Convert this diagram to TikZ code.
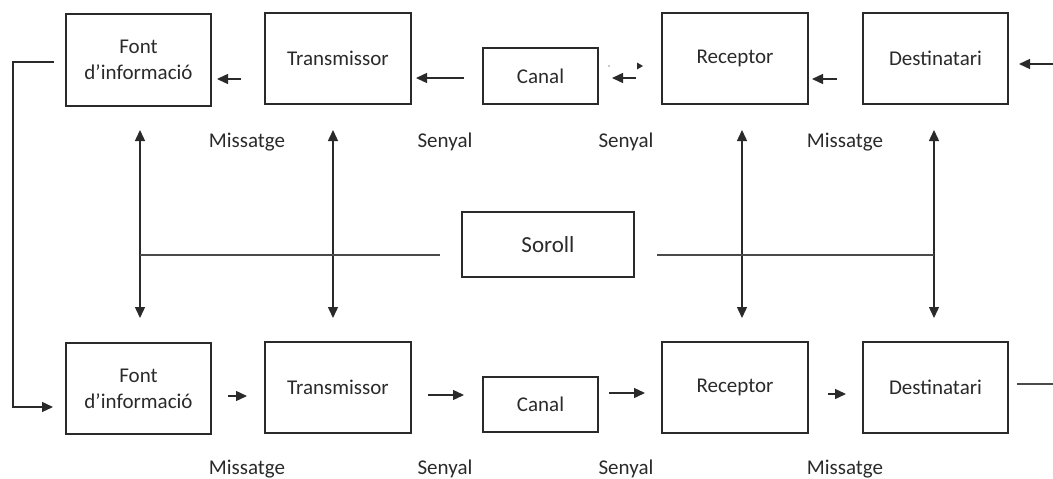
\documentclass[tikz,border=0pt]{standalone}
\usepackage{fontspec}
\setmainfont{Carlito}
\usetikzlibrary{arrows.meta}
\definecolor{ink}{HTML}{2A2A2A}
\begin{document}
\begin{tikzpicture}[x=1pt,y=-1pt,
  box/.style={draw=ink, line width=1.5pt, inner sep=0pt, text=ink, align=center,
    font=\fontsize{21}{26}\selectfont},
  lab/.style={text=ink, inner sep=0pt, font=\fontsize{21}{26}\selectfont},
  arr/.style={draw=ink, line width=1.4pt, -{Triangle[length=11pt,width=10pt]}},
  darr/.style={draw=ink, line width=1.4pt, {Triangle[length=11pt,width=10pt]}-{Triangle[length=11pt,width=10pt]}},
  ln/.style={draw=ink!85, line width=1.4pt}]
\useasboundingbox (0,0) rectangle (1053,479);
% top row
\node[box, minimum width=145pt, minimum height=92pt] (f1) at (138.5,60) {Font\\d’informació};
\node[box, minimum width=146pt, minimum height=91pt] (t1) at (338,58.5) {Transmissor};
\node[box, minimum width=115pt, minimum height=56pt] (c1) at (540.5,76) {Canal};
\node[box, minimum width=146pt, minimum height=91pt] (r1) at (735,58.5) {Receptor};
\node[box, minimum width=145pt, minimum height=91pt] (d1) at (935.5,58.5) {Destinatari};
% bottom row
\node[box, minimum width=145pt, minimum height=91pt] (f2) at (138.5,388.5) {Font\\d’informació};
\node[box, minimum width=146pt, minimum height=91pt] (t2) at (338,387.5) {Transmissor};
\node[box, minimum width=115pt, minimum height=55pt] (c2) at (540.5,404.5) {Canal};
\node[box, minimum width=146pt, minimum height=91pt] (r2) at (735,387.5) {Receptor};
\node[box, minimum width=145pt, minimum height=91pt] (d2) at (935.5,387.5) {Destinatari};
% noise
\node[box, minimum width=172pt, minimum height=65pt, font=\fontsize{23}{28}\selectfont] (s) at (548,244.5) {Soroll};
% labels
\node[lab] (m1) at (247,142) {Missatge};
\node[lab] (s1) at (445,142) {Senyal};
\node[lab] (s2) at (626,142) {Senyal};
\node[lab] (m2) at (845,142) {Missatge};
\node[lab] (m3) at (247,469) {Missatge};
\node[lab] (s3) at (445,469) {Senyal};
\node[lab] (s4) at (626,469) {Senyal};
\node[lab] (m4) at (845,469) {Missatge};
% top arrows (right to left)
\coordinate (a1s) at (241,79); \coordinate (a1e) at (217,79);
\coordinate (a2s) at (464,78); \coordinate (a2e) at (416,78);
\coordinate (a3s) at (636,78); \coordinate (a3e) at (612,78);
\coordinate (a4s) at (837,79); \coordinate (a4e) at (812,79);
\coordinate (a5s) at (1053,64); \coordinate (a5e) at (1019,64);
\draw[arr] (a1s) -- (a1e);
\draw[arr] (a2s) -- (a2e);
\draw[arr] (a3s) -- (a3e);
\draw[arr] (a4s) -- (a4e);
\draw[arr] (a5s) -- (a5e);
\fill[ink] (643,66) -- (637,62.5) -- (637,69.5) -- cycle;
\fill[ink!50] (609,66) circle (0.8pt);
% bottom arrows (left to right)
\coordinate (b1s) at (228,396); \coordinate (b1e) at (247,396);
\coordinate (b2s) at (428,395); \coordinate (b2e) at (464,395);
\coordinate (b3s) at (609,393); \coordinate (b3e) at (645,393);
\coordinate (b4s) at (828,394); \coordinate (b4e) at (846,394);
\coordinate (b5s) at (1017,384); \coordinate (b5e) at (1053,384);
\draw[arr] (b1s) -- (b1e);
\draw[arr] (b2s) -- (b2e);
\draw[arr] (b3s) -- (b3e);
\draw[arr] (b4s) -- (b4e);
\draw[ln] (b5s) -- (b5e);
% feedback loop
\coordinate (l1) at (54,62); \coordinate (l2) at (13,62);
\coordinate (l3) at (13,407); \coordinate (l4) at (53,407);
\draw[arr] (l1) -- (l2) -- (l3) -- (l4);
% noise distribution
\coordinate (v1t) at (140,130); \coordinate (v1b) at (140,318);
\coordinate (v2t) at (333,130); \coordinate (v2b) at (333,318);
\coordinate (v3t) at (742,130); \coordinate (v3b) at (742,318);
\coordinate (v4t) at (934,130); \coordinate (v4b) at (934,318);
\draw[darr] (v1t) -- (v1b);
\draw[darr] (v2t) -- (v2b);
\draw[darr] (v3t) -- (v3b);
\draw[darr] (v4t) -- (v4b);
\coordinate (h1a) at (140,255); \coordinate (h1b) at (440,255);
\coordinate (h2a) at (657,255); \coordinate (h2b) at (934,255);
\draw[ln] (h1a) -- (h1b);
\draw[ln] (h2a) -- (h2b);
\end{tikzpicture}
\end{document}
